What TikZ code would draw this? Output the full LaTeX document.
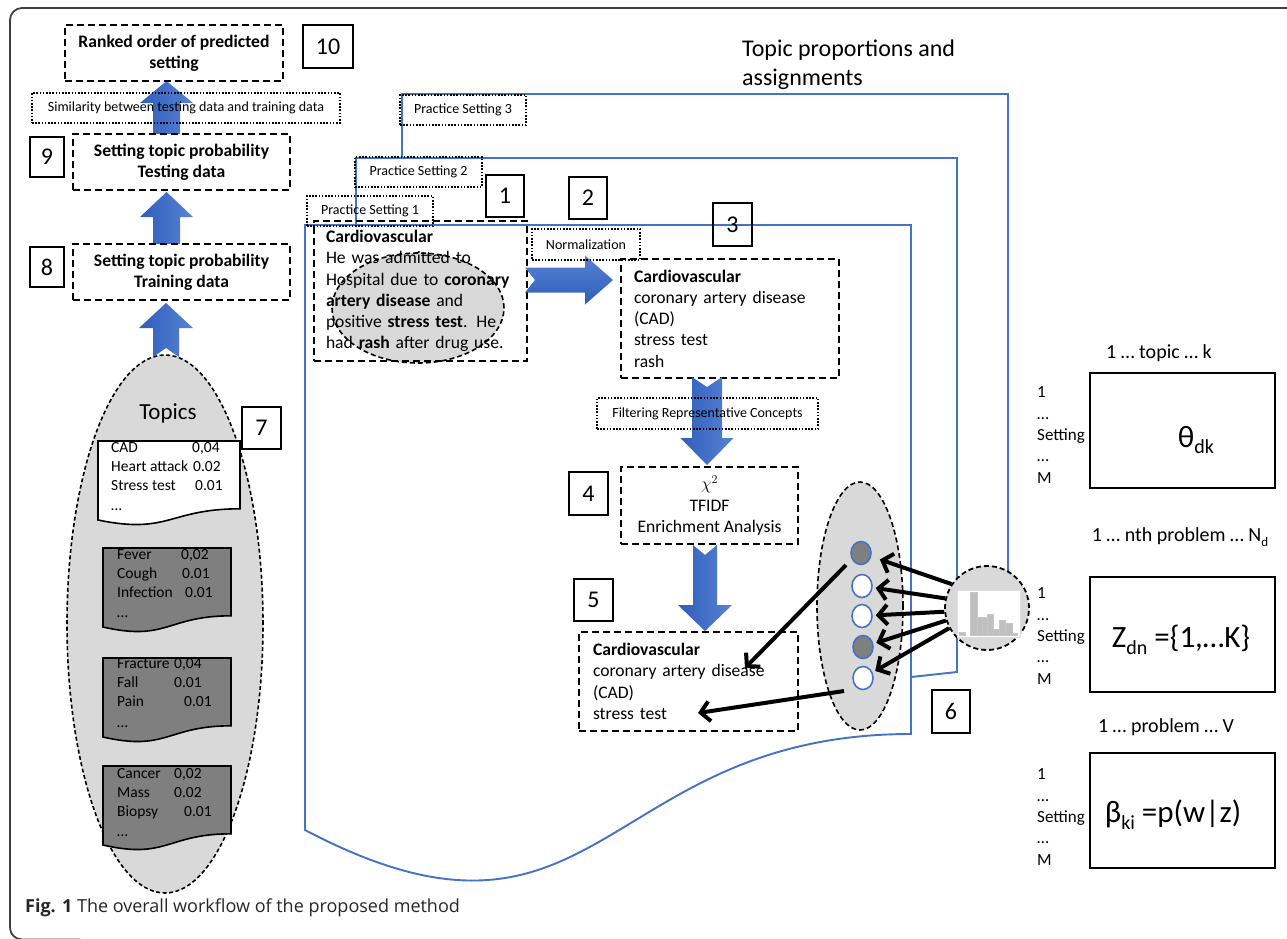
\documentclass[tikz,border=0pt]{standalone}
\usepackage{fontspec}
\setmainfont{Carlito}
\newfontfamily\capfont{Open Sans}
\usetikzlibrary{calc,arrows.meta,shapes.geometric}
\definecolor{pblue}{RGB}{68,114,196}
\definecolor{ablueA}{RGB}{46,94,188}
\definecolor{ablueB}{RGB}{88,130,210}
\definecolor{lgray}{RGB}{217,217,217}
\definecolor{dgray}{RGB}{127,127,127}
\definecolor{bargray}{RGB}{191,191,191}
\newcommand\myfs[2]{\fontsize{#1}{#2}\selectfont}
\newcommand\lsub[2]{\raisebox{-0.22em}{\myfs{#1}{#1}#2}}
\newcommand\vblock[6]{\shade[left color=ablueA,right color=ablueB] ($(#1)+(-#3,0)$) -- ($(#2)+(-#3,#5)$) -- ($(#2)+(-#4,#5)$) -- (#2) -- ($(#2)+(#4,#5)$) -- ($(#2)+(#3,#5)$) -- ($(#1)+(#3,0)$) -- ($(#1)+(0,#6)$) -- cycle;}
\newcommand\hblock[6]{\shade[top color=ablueB,bottom color=ablueA] ($(#1)+(0,-#3)$) -- ($(#2)+(#5,-#3)$) -- ($(#2)+(#5,-#4)$) -- (#2) -- ($(#2)+(#5,#4)$) -- ($(#2)+(#5,#3)$) -- ($(#1)+(0,#3)$) -- ($(#1)+(#6,0)$) -- cycle;}
\newcommand\tdocshape[4]{%
 \pgfmathsetmacro\tdx{#1+#3}\pgfmathsetmacro\tdm{#1+0.5*#3}%
 \pgfmathsetmacro\tdr{#2+67.8}\pgfmathsetmacro\tdl{#2+79}\pgfmathsetmacro\tdc{#2+93.7}%
 \filldraw[fill=#4,line width=1.6pt] (#1,#2) -- (\tdx,#2) -- (\tdx,\tdr) .. controls (\tdm,\tdr) and (\tdm,\tdc) .. (#1,\tdl) -- cycle;}
\begin{document}
\begin{tikzpicture}[x=1pt,y=-1pt,
  numbox/.style={draw,line width=1.7pt,inner sep=0pt,font=\myfs{24}{28}},
  dbox/.style={draw,line width=2pt,dash pattern=on 7pt off 4pt},
  dotbox/.style={draw,line width=1.8pt,dash pattern=on 1.6pt off 1.6pt,inner sep=0pt,font=\myfs{14}{17}},
  body/.style={font=\myfs{17.6}{21.3}},
  bbody/.style={font=\bfseries\myfs{17.6}{21.3}},
  tdoc/.style={font=\myfs{15.5}{19},inner sep=0pt,anchor=base west},
  pframe/.style={draw=pblue,line width=1.9pt,fill=white},
  blk/.style={line width=4pt,-{Straight Barb[length=9pt,width=20pt]},shorten >=3pt},
  mbox/.style={draw,line width=2pt,minimum width=185,minimum height=115,inner sep=0pt},
  rowlab/.style={font=\myfs{17}{21.3},align=left,anchor=west,inner sep=0pt},
  toplab/.style={font=\myfs{20}{24},inner sep=0pt},
  bigm/.style={font=\myfs{31}{36},inner sep=0pt}
]
\useasboundingbox (0,0) rectangle (1287,938);
% outer frame
\draw[line width=1.8pt,black!75,rounded corners=12pt] (1300,8) -- (10,8) -- (10,939.5) -- (80,939.5);

% ---------- topics ----------
\node[ellipse,draw,fill=lgray,line width=1.6pt,dash pattern=on 4pt off 2.5pt,minimum width=196,minimum height=538,inner sep=0pt] (topics) at (165,624) {};
\node[font=\myfs{23}{27},inner sep=0pt] (topicslab) at (168,413) {Topics};
\node[numbox,fill=white,minimum width=39,minimum height=42] (n7) at (261.5,428) {7};
\tdocshape{98}{441}{142}{white}
\tdocshape{103}{548}{128}{dgray}
\tdocshape{103}{658}{128}{dgray}
\tdocshape{103}{766}{128}{dgray}
\node[tdoc] (t11) at (111,452) {\makebox[81pt][l]{CAD}0,04};
\node[tdoc] (t12) at (111,471) {\makebox[82pt][l]{Heart attack}0.02};
\node[tdoc] (t13) at (111,490) {\makebox[84pt][l]{Stress test}0.01};
\node[tdoc] (t14) at (111,510) {…};
\node[tdoc] (t21) at (117,559) {\makebox[64pt][l]{Fever}0,02};
\node[tdoc] (t22) at (117,578) {\makebox[65pt][l]{Cough}0.01};
\node[tdoc] (t23) at (117,597) {\makebox[68pt][l]{Infection}0.01};
\node[tdoc] (t24) at (117,617) {…};
\node[tdoc] (t31) at (117,668) {\makebox[57pt][l]{Fracture}0,04};
\node[tdoc] (t32) at (117,687) {\makebox[57pt][l]{Fall}0.01};
\node[tdoc] (t33) at (117,706) {\makebox[67pt][l]{Pain}0.01};
\node[tdoc] (t34) at (117,727) {…};
\node[tdoc] (t41) at (117,778) {\makebox[57pt][l]{Cancer}0,02};
\node[tdoc] (t42) at (117,797) {\makebox[57pt][l]{Mass}0.02};
\node[tdoc] (t43) at (117,816) {\makebox[67pt][l]{Biopsy}0.01};
\node[tdoc] (t44) at (117,836) {…};

% ---------- left column ----------
\coordinate (aT1) at (166,357); \coordinate (aP1) at (166,303);
\coordinate (aT2) at (166.5,254); \coordinate (aP2) at (166.5,192);
\coordinate (aT3) at (166.5,143); \coordinate (aP3) at (166.5,81);
\vblock{aT1}{aP1}{13}{27}{25}{-9}
\vblock{aT2}{aP2}{13.5}{26.5}{25}{-9}
\vblock{aT3}{aP3}{13.5}{26.5}{22}{-9}
\node[dbox,fill=white,bbody,align=center,minimum width=217,minimum height=56] (b8) at (181.5,272) {Setting topic probability\\Training data};
\node[dbox,fill=white,bbody,align=center,minimum width=217,minimum height=56] (b9) at (181.5,162) {Setting topic probability\\Testing data};
\node[dbox,bbody,align=center,minimum width=218,minimum height=56] (b10) at (174,53) {Ranked order of predicted\\setting};
\node[dotbox,minimum width=308,minimum height=30] (sim) at (186,108) {Similarity between testing data and training data};
\node[numbox,minimum width=34,minimum height=40] (n8) at (47,267) {8};
\node[numbox,minimum width=34,minimum height=40] (n9) at (47,157) {9};
\node[numbox,minimum width=50,minimum height=43] (n10) at (328,46.5) {10};

% ---------- practice setting frames ----------
\draw[pframe] (402,158) -- (402,94) -- (1008,94) -- (1008,608) -- (957,614) -- (957,158) -- cycle;
\draw[pframe] (356,225) -- (356,158) -- (957,158) -- (957,672) -- (911,677) -- (911,225) -- cycle;
\draw[pframe] (305,225) -- (911,225) -- (911,734) .. controls (600,734) and (600,985) .. (305,830) -- cycle;
\node[dotbox,minimum width=126,minimum height=30] (ps3) at (463,110) {Practice Setting 3};
\node[dotbox,minimum width=127,minimum height=30] (ps2) at (418.5,172) {Practice Setting 2};
\node[dotbox,minimum width=126,minimum height=30] (ps1) at (370,211) {Practice Setting 1};

% ---------- document 1 ----------
\node[ellipse,draw,dash pattern=on 5pt off 3pt,line width=1.6pt,fill=lgray,minimum width=172,minimum height=110,inner sep=0pt] (ell1) at (418,308) {};
\node[dbox,body,anchor=north west,inner xsep=12pt,inner ysep=0pt,text width=189pt,minimum height=140pt,align=left] (doc1) at (313,220)
 {\textbf{Cardiovascular}\\He was admitted to\\Hospital due to \textbf{coronary}\\\textbf{artery disease} and\\positive \textbf{stress test}. He\\had \textbf{rash} after drug use.};

% ---------- normalization ----------
\coordinate (aT4) at (525,280); \coordinate (aP4) at (613,280);
\hblock{aT4}{aP4}{12.5}{24.5}{-28}{10}
\node[dotbox,minimum width=108,minimum height=31] (norm) at (586,244.5) {Normalization};
\node[dbox,body,anchor=north west,inner xsep=13pt,inner ysep=0pt,text width=192pt,minimum height=119pt,align=left] (doc3) at (620,258)
 {\textbf{Cardiovascular}\\coronary artery disease\\(CAD)\\stress test\\rash};

% ---------- filtering ----------
\coordinate (aT5) at (707,377); \coordinate (aP5) at (707,465);
\vblock{aT5}{aP5}{15}{26.5}{-27}{10}
\node[dotbox,minimum width=221,minimum height=31] (filt) at (707.5,413.5) {Filtering Representative Concepts};
\node[dbox,body,align=center,minimum width=177,minimum height=77,inner sep=0pt] (b4) at (709.5,505.5) {$\chi^{2}$\\TFIDF\\Enrichment Analysis};
\coordinate (aT6) at (705,545); \coordinate (aP6) at (705,631);
\vblock{aT6}{aP6}{12}{27}{-26}{10}
\node[dbox,body,anchor=north west,inner xsep=14pt,inner ysep=0pt,text width=191pt,minimum height=99pt,align=left] (doc5) at (578,631)
 {\textbf{Cardiovascular}\\coronary artery disease\\(CAD)\\stress test};

% ---------- topic assignment ellipse ----------
\node[ellipse,draw,dash pattern=on 5pt off 3pt,line width=1.6pt,fill=lgray,minimum width=86,minimum height=248,inner sep=0pt] (ell2) at (860,606) {};
\node[ellipse,draw=pblue,line width=1.6pt,fill=dgray,minimum width=20,minimum height=23,inner sep=0pt] (c1) at (861,553) {};
\node[ellipse,draw=pblue,line width=1.6pt,fill=white,minimum width=20,minimum height=23,inner sep=0pt] (c2) at (862,586) {};
\node[ellipse,draw=pblue,line width=1.6pt,fill=white,minimum width=20,minimum height=23,inner sep=0pt] (c3) at (862,616) {};
\node[ellipse,draw=pblue,line width=1.6pt,fill=dgray,minimum width=20,minimum height=23,inner sep=0pt] (c4) at (863,647) {};
\node[ellipse,draw=pblue,line width=1.6pt,fill=white,minimum width=20,minimum height=23,inner sep=0pt] (c5) at (863,678) {};
\node[circle,draw,dash pattern=on 5pt off 3pt,line width=1.8pt,fill=lgray,minimum size=84,inner sep=0pt] (hist) at (987,608) {};
\node[draw=gray!25,fill=white,minimum width=63,minimum height=47,inner sep=0pt] (chart) at (988.5,613.5) {};
\foreach \a/\b/\t in {959/965/632,970/977/592,977/982/617,982/987/617,987/993/614,993/999/629,999/1005/620,1005/1012/623,1012/1017/633}
  {\filldraw[fill=bargray,draw=gray!45,line width=0.5pt] (\a,\t) rectangle (\b,635);}
\draw[blk,shorten >=9pt] (hist.146) -- (c1);
\draw[blk] (hist.167) -- (c2);
\draw[blk] (hist.185) -- (c3);
\draw[blk] (hist.197) -- (c4);
\draw[blk] (hist.208) -- (c5);
\coordinate (s6) at (846,565); \coordinate (t6) at (745,668);
\coordinate (s7) at (844,691); \coordinate (t7) at (698,713);
\draw[blk,shorten >=0pt] (s6) -- (t6);
\draw[blk,shorten >=0pt] (s7) -- (t7);

% ---------- step numbers ----------
\node[numbox,minimum width=38,minimum height=42] (n1) at (505,196) {1};
\node[numbox,minimum width=38,minimum height=42] (n2) at (588,198) {2};
\node[numbox,minimum width=39,minimum height=43] (n3) at (732.5,224.5) {3};
\node[numbox,minimum width=39,minimum height=43] (n4) at (588.5,493.5) {4};
\node[numbox,minimum width=39,minimum height=42] (n5) at (593.5,600) {5};
\node[numbox,minimum width=38,minimum height=43] (n6) at (951,711.5) {6};

% ---------- right matrices ----------
\node[font=\myfs{24}{29},align=left,anchor=west,inner sep=0pt] (tpa) at (742,65) {Topic proportions and\\assignments};
\node[toplab] (lab1) at (1159,353) {1 … topic … k};
\node[mbox] (theta) at (1182.5,430.5) {};
\node[bigm] (thetat) at (1196,440) {θ\lsub{20}{dk}};
\node[rowlab] (r1) at (1037,435) {1\\…\\Setting\\…\\M};
\node[toplab] (lab2) at (1180,537) {1 … nth problem … N\lsub{13}{d}};
\node[mbox] (zbox) at (1182.5,634.5) {};
\node[bigm] (zt) at (1181,640) {Z\lsub{20}{dn} =\{1,…K\}};
\node[rowlab] (r2) at (1037,636) {1\\…\\Setting\\…\\M};
\node[toplab] (lab3) at (1166,727) {1 … problem … V};
\node[mbox] (bbox) at (1182.5,810.5) {};
\node[bigm] (bt) at (1173,815) {β\lsub{20}{ki} =p(w|z)};
\node[rowlab] (r3) at (1037,817) {1\\…\\Setting\\…\\M};

% ---------- caption ----------
\node[font=\capfont\myfs{18}{22},anchor=west,inner sep=0pt,text=black!85] (cap) at (25,908) {\textbf{Fig. 1} The overall workflow of the proposed method};
\end{tikzpicture}
\end{document}
